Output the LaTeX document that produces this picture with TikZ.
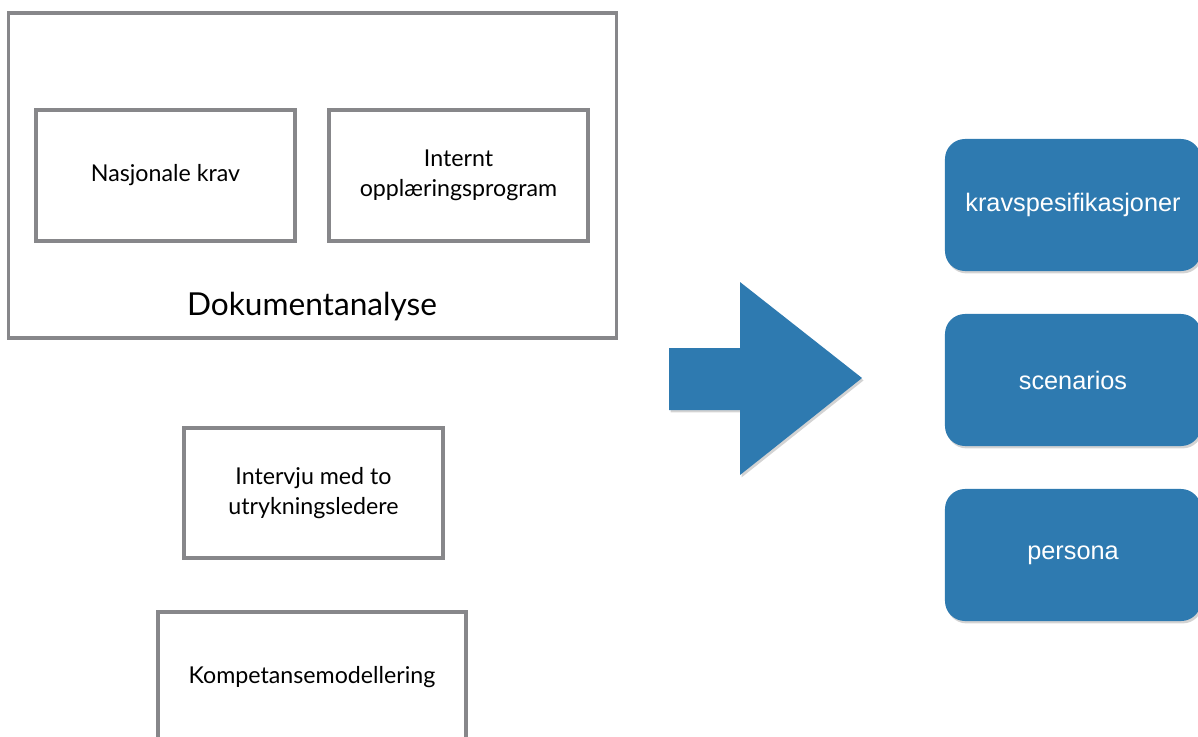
\documentclass[tikz,border=0pt]{standalone}
\usepackage{fontspec}
\setmainfont{Lato}
\newfontfamily\helv{Liberation Sans}
\usetikzlibrary{shadows}
\definecolor{kravblue}{RGB}{46,122,176}
\definecolor{kantgray}{RGB}{135,135,138}
\tikzset{
  grabox/.style={draw=kantgray, line width=2.2pt, align=center, font=\fontsize{16.5}{21}\selectfont, inner sep=0pt},
  blabox/.style={fill=kravblue, rounded corners=0.5cm, minimum width=6.4cm, minimum height=3.3cm,
    text=white, font=\helv\fontsize{18}{22}\selectfont,
    drop shadow={opacity=0.35, shadow xshift=0.04cm, shadow yshift=-0.06cm}}
}
\begin{document}
\begin{tikzpicture}[x=0.025cm,y=-0.025cm]
	\useasboundingbox (0,0) rectangle (1198,737);
	% dokumentanalyse
	\node (dok) [grabox, minimum width=15.175cm, minimum height=8.125cm] at (312.5,175.5) {};
	\node (nasj) [grabox, minimum width=6.475cm, minimum height=3.275cm] at (165.5,175.5) {Nasjonale krav};
	\node (intern) [grabox, minimum width=6.475cm, minimum height=3.275cm] at (458.5,175.5) {Internt\\oppl\ae ringsprogram};
	\node (doktekst) at (312,307) [font=\fontsize{22.5}{26}\selectfont] {Dokumentanalyse};
	
	\node (intervju) [grabox, minimum width=6.475cm, minimum height=3.25cm] at (313.5,493) {Intervju med to\\utrykningsledere};
	\node (kompetanse) [grabox, minimum width=7.7cm, minimum height=3.25cm] at (312,677) {Kompetansemodellering};
	
	% pil
	\fill [kravblue, drop shadow={opacity=0.35, shadow xshift=0.04cm, shadow yshift=-0.06cm}]
		(669,348) -- (740,348) -- (740,282) -- (862,378) -- (740,475) -- (740,410) -- (669,410) -- cycle;
	
	% resultater
	\node (krav) [blabox] at (1073,205) {kravspesifikasjoner};
	\node (scen) [blabox] at (1073,380) {scenarios};
	\node (pers) [blabox] at (1073,555) {persona};
\end{tikzpicture}
\end{document}
